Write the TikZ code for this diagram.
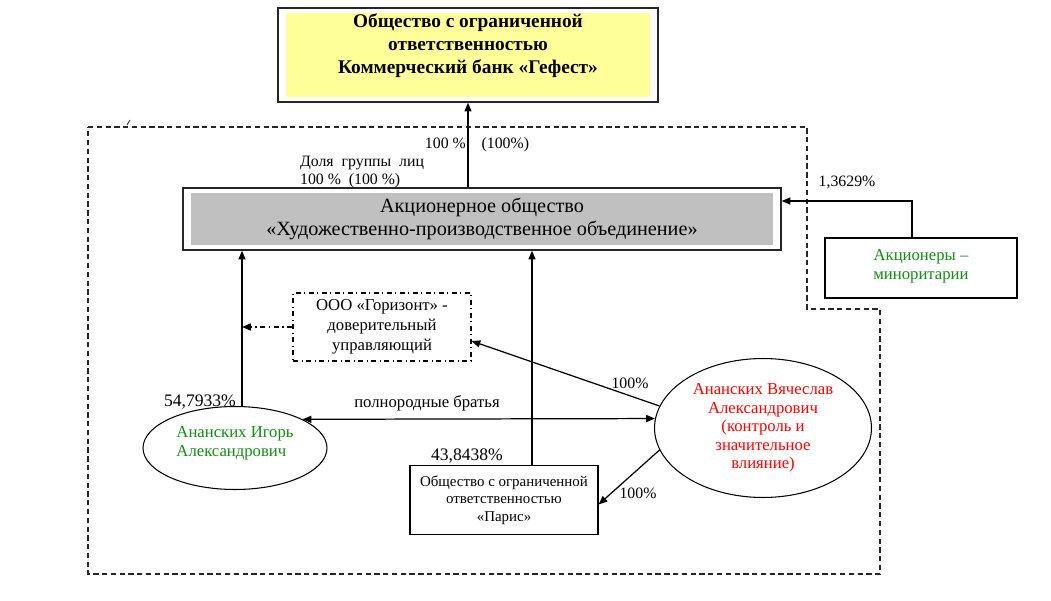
\documentclass[tikz,border=0pt]{standalone}
\usepackage{fontspec}
\setmainfont{Liberation Serif}
\usetikzlibrary{arrows.meta,positioning,shapes.geometric}
\definecolor{bankyellow}{RGB}{255,255,153}
\definecolor{aogray}{RGB}{192,192,192}
\definecolor{namegreen}{RGB}{20,140,20}
\definecolor{namered}{RGB}{255,0,0}
\begin{document}
\begin{tikzpicture}[x=0.02cm, y=-0.02cm, >={Triangle[length=5pt,width=4pt]},
  link/.style={line width=0.7pt},
  inset/.style={path picture={\fill[#1] ([xshift=0.15cm,yshift=0.1cm]path picture bounding box.south west) rectangle ([xshift=-0.15cm,yshift=-0.1cm]path picture bounding box.north east);}},
  firm/.style={draw=black!85, line width=0.8pt, align=center, inner sep=0pt},
  person/.style={ellipse, draw, line width=0.6pt, align=center, inner sep=0pt},
  pct/.style={font=\fontsize{9}{11}\selectfont, inner sep=1pt}]
\useasboundingbox (0,0) rectangle (1051,601);
\draw[dash pattern=on 3pt off 2pt, black!85, line width=0.65pt] (88,127) -- (807,127) -- (807,309) -- (880,309) -- (880,574) -- (88,574) -- cycle;
\draw[black!80, line width=0.5pt] (127,125) -- (130,120);
\node[firm, inset=bankyellow, minimum width=7.6cm, minimum height=1.88cm, font=\bfseries\fontsize{11}{13.1}\selectfont] (bank) at (468,55) {Общество с ограниченной\\ответственностью\\ Коммерческий банк «Гефест»\rule[-0.45cm]{0pt}{0pt}};
\node[firm, inset=aogray, minimum width=11.96cm, minimum height=1.24cm, font=\fontsize{11.5}{13.1}\selectfont] (ao) at (482,219) {Акционерное общество\\«Художественно-производственное объединение»};
\node[draw, line width=0.7pt, minimum width=3.84cm, minimum height=1.2cm, align=center, inner sep=0pt, text=namegreen, font=\fontsize{9.5}{10.8}\selectfont] (minor) at (921,268) {Акционеры –\\миноритарии\rule[-0.15cm]{0pt}{0pt}};
\node[draw, dash dot, line width=0.6pt, minimum width=3.56cm, minimum height=1.36cm, align=center, inner sep=0pt, font=\fontsize{9.5}{11.4}\selectfont] (trust) at (382,327) {ООО «Горизонт» -\\доверительный\\управляющий};
\node[person, align=left, minimum width=3.68cm, minimum height=1.66cm, text=namegreen, font=\fontsize{9.5}{10.8}\selectfont] (igor) at (235,448) {Ананских Игорь\\Александрович\rule[-0.25cm]{0pt}{0pt}};
\node[person, minimum width=4.34cm, minimum height=2.78cm, text=namered, font=\fontsize{9.5}{10.6}\selectfont] (vyach) at (763,428) {Ананских Вячеслав\\Александрович\\(контроль и\\значительное\\влияние)};
\node[draw, line width=0.7pt, minimum width=3.76cm, minimum height=1.38cm, align=center, inner sep=0pt, font=\fontsize{8.5}{9.9}\selectfont] (paris) at (504,500) {Общество с ограниченной\\ответственностью\\«Парис»};
\node[pct] (bankshare) at (477,145) {100~\%\quad(100\%)};
\node[pct, anchor=west, align=left, font=\fontsize{9}{10.8}\selectfont] (groupshare) at (298,172) {Доля~ группы~ лиц\\100~\%~ (100~\%)};
\node[pct] (minorshare) at (847,182) {1,3629\%};
\node[pct, font=\fontsize{10}{12}\selectfont] (igorshare) at (200,402) {54,7933\%};
\node[pct, font=\fontsize{9.5}{11}\selectfont] (brothers) at (427,403) {полнородные братья};
\node[pct, font=\fontsize{10}{12}\selectfont] (parisshare) at (467,456) {43,8438\%};
\node[pct] (trustshare) at (630,383) {100\%};
\node[pct] (parisown) at (638,493) {100\%};
\draw[->, link] (bank.south |- ao.north) -- (bank.south);
\draw[->, link] ([xshift=-0.18cm]minor.north) |- ([yshift=0.36cm]ao.east);
\draw[->, link] (igor.north -| 242,0) -- (ao.south -| 242,0);
\draw[->, link] (paris.north -| 532,0) -- (ao.south -| 532,0);
\draw[->, link, dash dot] (trust.west) -- (trust.west -| 242,0);
\draw[<->, link] (igor.23.7) -- (vyach.175.5);
\draw[->, link] (vyach.168.8) -- ([yshift=-0.28cm]trust.east);
\draw[->, link] (vyach.192.8) -- ([yshift=-0.09cm]paris.east);
\end{tikzpicture}
\end{document}
